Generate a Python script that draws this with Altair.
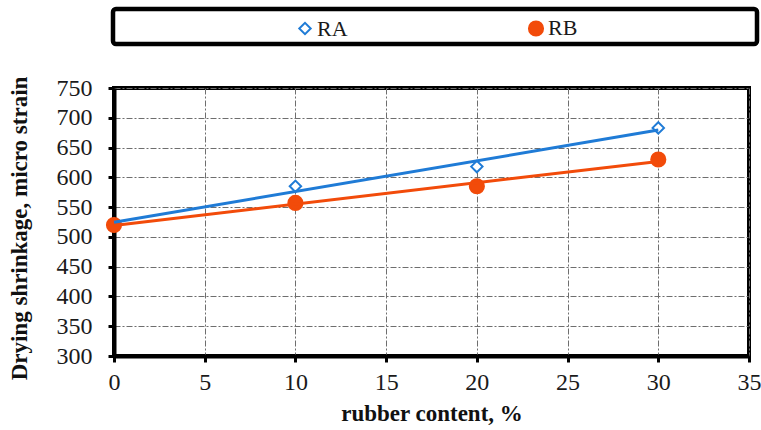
import altair as alt
import pandas as pd

# Drying shrinkage (micro strain) against rubber content (%)
rubber_content = [0, 10, 20, 30]
shrink_ra = [522, 585, 618, 683]
shrink_rb = [520, 557, 585, 630]

series_names = ["RA", "RB"]
series_colors = ["#1F7BD6", "#F24B0A"]
series_fills = ["white", "#F24B0A"]
series_shapes = ["diamond", "circle"]
series_sizes = [130, 200]

x_ticks = [0, 5, 10, 15, 20, 25, 30, 35]
y_ticks = [300, 350, 400, 450, 500, 550, 600, 650, 700, 750]

df = pd.DataFrame(
    {
        "content": rubber_content * 2,
        "shrinkage": shrink_ra + shrink_rb,
        "series": ["RA"] * len(rubber_content) + ["RB"] * len(rubber_content),
    }
)

FONT = "Liberation Serif"
PLOT_W, PLOT_H = 635, 268

x_enc = alt.X(
    "content:Q",
    scale=alt.Scale(domain=[0, 35], nice=False),
    axis=alt.Axis(values=x_ticks, title="rubber content, %", titlePadding=8,
                  labelFlush=False, labelOverlap=False),
)
y_enc = alt.Y(
    "shrinkage:Q",
    scale=alt.Scale(domain=[300, 750], nice=False, zero=False),
    axis=alt.Axis(values=y_ticks, title="Drying shrinkage, micro strain", titlePadding=25,
                  titleY=140, labelFlush=False, labelOverlap=False),
)
color_scale = alt.Scale(domain=series_names, range=series_colors)
color_enc = alt.Color(
    "series:N",
    scale=color_scale,
    legend=alt.Legend(
        title=None,
        orient="none",
        direction="horizontal",
        legendX=180,
        legendY=-71,
        columnPadding=176,
        labelFont=FONT,
        labelFontSize=22,
        labelColor="#1a1a1a",
        labelOffset=1,
        symbolSize=130,
        symbolStrokeWidth=2,
    ),
)

base = alt.Chart(df)

points = base.mark_point(strokeWidth=2, opacity=1).encode(
    x=x_enc,
    y=y_enc,
    color=color_enc,
    shape=alt.Shape("series:N", scale=alt.Scale(domain=series_names, range=series_shapes)),
    fill=alt.Fill("series:N", scale=alt.Scale(domain=series_names, range=series_fills)),
    size=alt.Size("series:N", scale=alt.Scale(domain=series_names, range=series_sizes), legend=None),
    order=alt.Order("series:N"),
)

# Linear trendlines for each series
trend = (
    base.transform_regression("content", "shrinkage", groupby=["series"])
    .mark_line(strokeWidth=3)
    .encode(
        x=x_enc,
        y=y_enc,
        color=alt.Color("series:N", scale=color_scale),
        detail="series:N",
    )
)
trend_rb = trend.transform_filter("datum.series === 'RB'")
trend_ra = trend.transform_filter("datum.series === 'RA'")

# Frame around the legend entries
legend_box = alt.Chart(alt.Data(values=[{}])).mark_rect(
    fill="white", stroke="black", strokeWidth=4.5, cornerRadius=3
).encode(
    x=alt.value(-1), x2=alt.value(643), y=alt.value(-79), y2=alt.value(-44)
)

chart = (
    alt.layer(legend_box, points, trend_rb, trend_ra)
    .properties(
        width=PLOT_W,
        height=PLOT_H,
        autosize=alt.AutoSizeParams(type="none"),
        padding={"left": 114, "top": 88, "right": 12, "bottom": 74},
    )
    .configure_view(stroke="black", strokeWidth=4)
    .configure_axis(
        labelFont=FONT,
        labelFontSize=24,
        labelColor="#1a1a1a",
        titleFont=FONT,
        titleFontSize=23,
        titleFontWeight="bold",
        titleColor="#111111",
        domainColor="black",
        domainWidth=4,
        tickColor="black",
        tickWidth=3,
        tickSize=6,
        labelPadding=8,
        gridColor="#6e6e6e",
        gridWidth=1,
        gridDash=[6, 2, 2, 2],
    )
    .configure_axisY(labelPadding=16)
)

chart.save("out.html", embed_options={"renderer": "svg", "actions": False})
